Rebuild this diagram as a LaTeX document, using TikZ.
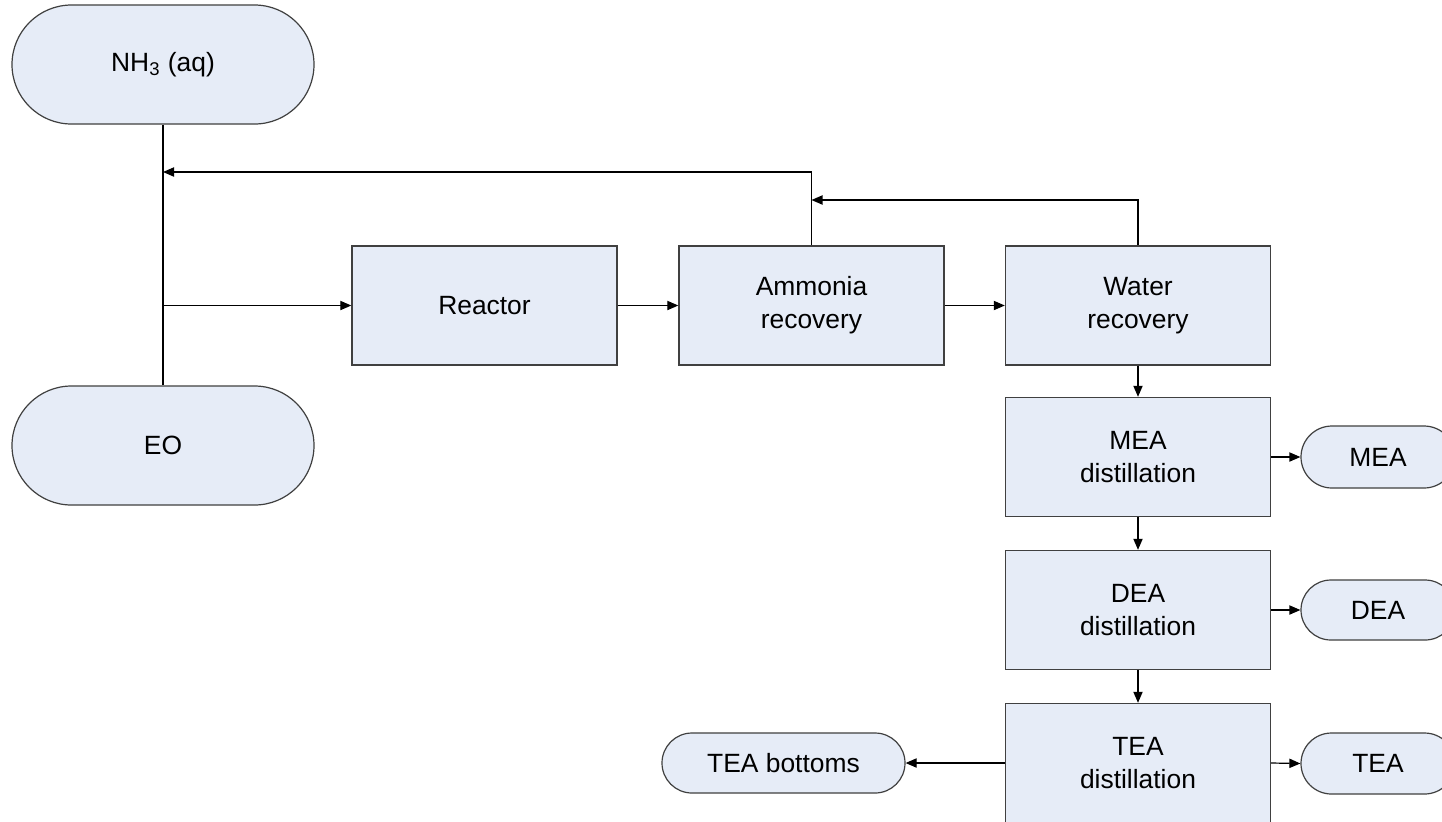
\documentclass[tikz,border=0pt]{standalone}
\usepackage{fontspec}
\setmainfont{Liberation Sans}
\usetikzlibrary{arrows.meta,shapes.misc}
\definecolor{boxfill}{HTML}{E6ECF7}
\definecolor{boxline}{HTML}{404040}
\begin{document}
\begin{tikzpicture}[x=0.5pt,y=-0.5pt,
  every node/.style={font=\fontsize{13.2}{16.5}\selectfont, align=center, inner sep=0pt},
  procbox/.style={draw=boxline, fill=boxfill, line width=0.7pt, rectangle,
    minimum width=132.5pt, minimum height=59.5pt},
  term/.style={draw=boxline, fill=boxfill, line width=0.6pt, rounded rectangle},
  conn/.style={draw=black, line width=0.6pt},
  arr/.style={conn, -{Triangle[length=5.5pt,width=4.6pt]}}
]
\useasboundingbox (0,0) rectangle (1442,821);
\clip (0,0) rectangle (1442,821);
\fill[white] (0,0) rectangle (1442,821);

% terminals
\node[term, minimum width=151pt, minimum height=59.5pt] (nh3) at (163,64.5) {NH\textsubscript{3} (aq)};
\node[term, minimum width=151pt, minimum height=59.5pt] (eo) at (163,445.5) {EO};
\node[term, minimum width=77pt, minimum height=31pt] (mea) at (1378,457) {MEA};
\node[term, minimum width=77pt, minimum height=30pt] (dea) at (1378,610) {DEA};
\node[term, minimum width=77pt, minimum height=30.5pt] (tea) at (1378,763.5) {TEA};
\node[term, minimum width=121.5pt, minimum height=30pt] (teab) at (783.5,763) {TEA bottoms};

% process boxes
\node[procbox] (reactor) at (484.5,305.5) {Reactor};
\node[procbox] (ammonia) at (811.5,305.5) {Ammonia\\recovery};
\node[procbox] (water) at (1138,305.5) {Water\\recovery};
\node[procbox] (mead) at (1138,457) {MEA\\distillation};
\node[procbox] (dead) at (1138,610) {DEA\\distillation};
\node[procbox] (tead) at (1138,763) {TEA\\distillation};

% junction coordinates
\coordinate (j1) at (nh3.south |- reactor.west);
\coordinate (j2) at (163,172);
\coordinate (j3) at (811.5,200);

% connectors
\draw[conn] (nh3.south) -- (eo.north);
\draw[arr] (j1) -- (reactor.west);
\draw[arr] (reactor.east) -- (ammonia.west);
\draw[arr] (ammonia.east) -- (water.west);
\draw[arr] (ammonia.north) |- (j2);
\draw[arr] (water.north) |- (j3);
\draw[arr] (water.south) -- (mead.north);
\draw[arr] (mead.south) -- (dead.north);
\draw[arr] (dead.south) -- (tead.north);
\draw[arr] (mead.east) -- (mea.west);
\draw[arr] (dead.east) -- (dea.west);
\draw[arr] (tead.east) -- (tea.west);
\draw[arr] (tead.west) -- (teab.east);
\end{tikzpicture}
\end{document}
